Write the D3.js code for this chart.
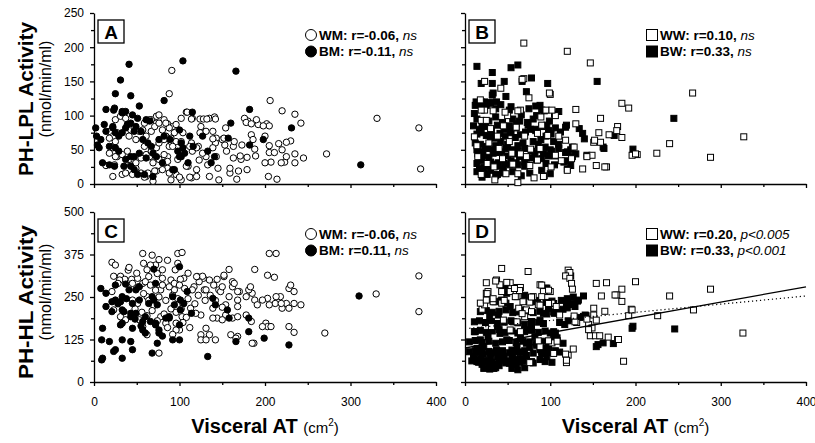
<!DOCTYPE html>
<html>
<head>
<meta charset="utf-8">
<title>PH-LPL / PH-HL activity vs visceral AT</title>
<script src="https://cdn.jsdelivr.net/npm/d3@7"></script>
<style>
    body { margin: 0; background: #fff; }
    svg { display: block; font-family: Arial, "Liberation Sans", sans-serif; }
    .axis path, .axis line { stroke: #000; stroke-width: 1.3; }
    .axis text { font-size: 12px; fill: #000; }
    .open { fill: #fff; stroke: #000; stroke-width: 1; }
    .filled { fill: #000; stroke: #000; stroke-width: 1; }
    .legend { font-size: 13.5px; font-weight: bold; }
    .legend .stat { font-style: italic; font-weight: normal; }
</style>
</head>
<body>
<svg id="chart" width="815" height="443"></svg>
<script>
// x ticks (visceral AT, cm2)
var xTicks = [0, 100, 200, 300, 400];
var xMinor = [50, 150, 250, 350];
// y ticks
var yTicksLPL = [0, 50, 100, 150, 200, 250];
var yMinorLPL = [25, 75, 125, 175, 225];
var yTicksHL = [0, 125, 250, 375, 500];
var yMinorHL = [62.5, 187.5, 312.5, 437.5];

// A: PH-LPL, men  [visceral AT, activity]
var aWM = [[91,166],[88,132],[206,122],[220,107],[235,102],[242,89],[331,96],[380,82],[382,22],[272,44],[245,38],[235,44],[230,63],[225,61],[216,59],[223,32],[235,31],[219,31],[204,11],[214,7],[205,46],[205,56],[211,46],[207,32],[200,31],[200,70],[192,87],[202,88],[205,85],[190,94],[180,92],[176,96],[184,72],[186,65],[188,51],[189,41],[179,39],[179,21],[169,19],[167,7],[159,16],[159,23],[172,36],[171,41],[163,38],[163,55],[155,48],[153,57],[154,82],[150,65],[143,67],[142,60],[143,40],[145,23],[146,6],[135,11],[133,28],[131,40],[127,45],[139,53],[139,66],[139,77],[135,96],[141,98],[131,77],[125,84],[124,75],[122,55],[123,35],[120,21],[114,9],[110,26],[115,48],[114,60],[108,105],[115,96],[102,6],[96,14],[92,19],[82,31],[86,23],[86,40],[88,55],[90,62],[84,70],[94,75],[92,84],[86,88],[82,94],[73,99],[67,94],[73,89],[67,77],[61,70],[59,55],[65,40],[69,31],[73,19],[69,4],[61,11],[55,16],[49,23],[43,28],[33,14],[22,11],[14,27],[24,28],[27,40],[22,55],[18,77],[25,94],[31,99],[37,96],[43,79],[49,65],[39,48],[120,11],[112,10],[100,10],[90,6],[88,16],[80,21],[71,19],[63,16],[59,10],[45,14],[37,16],[18,45],[25,40],[33,43],[41,36],[49,31],[55,38],[61,43],[67,48],[73,53],[76,60],[82,65],[90,67],[96,62],[104,75],[102,62],[92,55],[112,55],[120,53],[82,43],[76,36],[86,33],[98,36],[108,26],[22,53],[25,62],[18,67],[27,75],[41,70],[47,82],[57,79],[59,89],[65,94],[71,84],[76,89],[53,77],[80,79],[88,82],[96,87],[102,96],[114,95],[124,95],[76,101],[84,89],[109,105],[128,95],[132,95],[142,95],[178,90],[184,88],[198,85],[152,67],[164,62],[173,57],[220,50],[225,40]];
var aBM = [[41,175],[31,152],[25,132],[43,129],[104,180],[166,165],[82,122],[53,114],[182,109],[115,105],[160,89],[231,82],[198,65],[157,67],[182,57],[312,28],[2,82],[3,70],[4,57],[8,65],[14,77],[22,82],[25,75],[29,70],[33,75],[37,82],[39,87],[43,89],[47,77],[55,77],[57,65],[63,60],[67,55],[76,65],[82,70],[89,65],[100,79],[102,60],[104,53],[98,48],[102,40],[106,45],[112,70],[116,55],[110,31],[94,21],[80,31],[73,40],[69,45],[61,38],[53,45],[47,40],[43,40],[37,36],[35,26],[43,26],[47,21],[51,14],[59,14],[69,11],[92,21],[100,40],[137,31],[141,40],[133,48],[127,70],[18,28],[10,31],[24,26],[29,48],[25,53],[18,55],[6,53],[14,109],[24,111],[33,104],[37,106],[45,101],[51,96],[49,84],[61,94],[65,92],[12,87],[22,84],[23,108],[33,106]];

// B: PH-LPL, women
var bWW = [[69,206],[120,194],[147,177],[267,133],[184,118],[192,111],[130,109],[159,96],[179,84],[169,72],[184,68],[159,61],[151,61],[157,75],[327,69],[240,59],[225,45],[288,39],[202,43],[196,42],[166,25],[154,27],[149,42],[138,22],[120,20],[130,88],[106,100],[100,131],[75,126],[69,154],[42,140],[23,150],[65,108],[89,98],[93,12],[81,9],[62,15],[62,2],[35,6],[19,14],[101,25],[76,27],[56,29],[106,42],[128,54],[118,64],[19,93],[23,108],[11,69],[30,81],[50,100],[60,83],[85,74],[97,71],[77,51],[65,44],[44,37],[34,25],[67,153],[99,133],[19,108],[33,107],[47,105],[62,107],[95,108],[102,108],[178,78],[152,64],[143,40],[200,44],[164,25],[92,11],[25,93],[14,56],[28,60],[52,62],[70,70],[88,52],[110,70],[40,52],[55,45],[72,40],[15,40],[26,30],[48,15],[85,35],[113,34],[125,37],[38,70],[45,85],[90,86],[18,123]];
var bBW = [[14,172],[62,174],[54,170],[32,163],[19,147],[32,147],[46,150],[67,150],[78,155],[97,147],[155,150],[72,135],[32,130],[245,96],[11,103],[15,118],[23,120],[118,83],[138,74],[140,66],[175,71],[162,54],[197,51],[143,42],[116,32],[124,27],[126,54],[33,133],[48,128],[13,120],[19,120],[25,115],[30,119],[37,120],[54,113],[66,101],[88,115],[93,107],[99,92],[80,95],[73,90],[60,88],[105,102],[110,106],[14,73],[19,75],[25,71],[30,69],[35,67],[41,74],[47,70],[53,75],[59,68],[65,72],[71,76],[77,80],[83,78],[89,65],[95,70],[101,73],[15,44],[21,42],[28,39],[33,45],[43,47],[50,41],[57,44],[64,40],[72,38],[82,44],[92,45],[100,50],[106,41],[120,47],[124,50],[17,22],[22,24],[28,27],[33,29],[39,31],[45,22],[53,28],[60,31],[70,32],[78,38],[84,35],[90,37],[98,41],[118,34],[120,22],[134,81],[119,86],[163,52],[12,60],[18,58],[24,55],[36,56],[42,62],[50,58],[62,56],[68,60],[80,62],[86,58],[104,62],[110,58],[14,95],[20,88],[28,92],[36,98],[44,90],[52,85],[56,95],[64,92],[84,100],[96,86],[20,10],[26,14],[36,12],[44,16],[56,18],[66,12],[76,16],[90,20],[100,15],
    [12,115],[20,112],[28,118],[36,110],[42,116],[52,108],[75,110],[83,114],[90,108],[10,85],[17,80],[24,84],[31,78],[38,86],[46,80],[54,78],[60,82],[74,86],[82,80],[90,84],[98,78],[106,82],[112,76],[14,50],[20,48],[27,52],[34,50],[40,46],[48,52],[55,50],[62,48],[70,52],[78,48],[86,50],[94,54],[102,48],[110,52],[118,46],[126,40],[130,44],[14,30],[20,34],[30,32],[38,26],[46,30],[54,34],[62,28],[70,26],[95,30],[105,28],[14,18],[22,16],[30,20],[38,14]];

// C: PH-HL, men
var cWM = [[21,352],[25,344],[40,329],[41,337],[57,378],[68,373],[72,344],[86,358],[98,378],[103,381],[98,349],[205,378],[213,378],[203,314],[211,308],[158,331],[188,331],[380,312],[380,207],[330,259],[270,144],[242,227],[228,275],[230,285],[234,266],[234,231],[225,231],[218,251],[220,217],[212,231],[203,246],[205,227],[201,173],[203,163],[197,163],[228,163],[234,146],[188,241],[191,227],[185,261],[181,271],[178,251],[170,266],[168,241],[168,222],[162,280],[162,295],[158,251],[154,227],[160,139],[168,134],[187,114],[178,197],[184,178],[146,271],[152,310],[144,188],[139,188],[131,158],[125,139],[125,124],[135,139],[139,217],[128,305],[123,295],[135,300],[117,280],[105,305],[129,271],[125,197],[103,192],[96,173],[100,153],[76,85],[58,349],[66,344],[76,360],[23,311],[31,311],[36,302],[44,302],[51,305],[57,290],[64,310],[74,319],[80,305],[90,300],[101,302],[121,310],[127,311],[144,302],[152,314],[164,290],[21,266],[45,241],[51,231],[62,251],[78,271],[94,271],[115,271],[131,271],[148,266],[168,266],[183,280],[197,241],[213,251],[219,231],[228,217],[23,212],[31,192],[37,183],[53,183],[57,163],[62,139],[78,192],[84,173],[96,153],[113,217],[119,202],[154,197],[162,188],[168,192],[150,183],[131,124],[142,124],[166,129],[185,114],[207,163],[45,290],[52,280],[60,295],[66,285],[72,270],[80,285],[88,280],[94,290],[100,285],[106,275],[58,260],[64,240],[70,225],[76,250],[84,240],[92,255],[98,245],[104,230],[110,245],[48,215],[56,205],[62,195],[68,210],[74,180],[82,200],[90,215],[96,205],[102,215],[108,190],[86,160],[92,140],[104,175],[112,160],[118,230],[122,255],[130,240],[136,255],[142,240],[150,220],[150,280],[140,285],[120,310],[110,320],[95,330],[80,330],[62,330],[50,320],[30,300],[28,290]];
var cBM = [[8,275],[14,261],[14,222],[10,158],[9,124],[10,70],[9,65],[25,285],[37,288],[21,236],[33,212],[21,207],[33,173],[31,168],[43,192],[49,271],[53,241],[45,158],[57,178],[60,144],[68,251],[70,332],[72,290],[74,227],[72,173],[76,144],[74,114],[68,85],[84,188],[88,188],[92,251],[94,227],[92,124],[100,339],[100,168],[100,124],[101,241],[101,212],[105,231],[109,266],[114,202],[139,246],[142,227],[133,75],[156,212],[158,188],[166,119],[181,148],[181,188],[199,129],[228,109],[310,253],[18,119],[25,95],[33,124],[43,119],[45,95],[33,70],[23,90],[25,241],[31,236],[33,251],[41,271],[53,280],[35,207],[43,202],[49,202],[60,192],[66,178],[72,168],[76,153],[88,192],[57,153],[64,231],[70,241],[45,231],[38,245],[28,230],[48,185],[55,165],[80,135]];

// D: PH-HL, women
var dWW = [[43,334],[74,325],[121,329],[123,322],[118,312],[123,305],[125,290],[126,273],[25,292],[37,300],[41,286],[53,292],[25,261],[27,266],[53,266],[61,278],[65,278],[88,286],[92,266],[100,266],[154,290],[166,292],[200,295],[184,273],[178,256],[184,237],[160,253],[151,217],[164,208],[195,214],[192,195],[226,195],[240,253],[268,212],[288,273],[326,144],[186,61],[121,79],[119,57],[127,97],[147,136],[153,136],[158,136],[168,132],[179,125],[145,169],[149,159],[131,175],[20,214],[23,227],[18,232],[31,242],[43,232],[61,251],[69,237],[76,235],[63,217],[72,212],[80,251],[90,251],[86,227],[102,232],[107,222],[76,57],[102,115],[108,120],[25,241],[33,236],[43,266],[59,251],[64,269],[68,236],[90,285],[98,231],[88,226],[78,207],[70,192],[61,177],[53,153],[45,182],[31,163],[65,148],[88,104],[104,84],[111,197],[129,177],[176,256],[151,197],[154,182],[196,212],[180,125],
    [36,297],[49,293],[58,275],[26,260],[46,240],[33,245],[78,250],[98,270],[67,201],[86,121],[98,121],[118,82],[119,64],[128,194],[143,185],[145,154]];
var dBW = [[124,312],[95,276],[139,253],[124,232],[129,222],[120,218],[115,214],[139,193],[142,195],[117,169],[106,144],[156,110],[162,115],[174,113],[197,164],[196,158],[246,156],[98,108],[94,100],[88,95],[80,85],[72,78],[65,70],[58,66],[50,62],[40,58],[33,52],[26,60],[18,70],[12,65],[14,88],[20,95],[30,85],[38,75],[46,72],[55,80],[62,88],[70,92],[76,102],[84,108],[100,120],[104,125],[108,130],[133,241],[119,231],[105,202],[141,197],[111,175],[104,148],[107,124],[115,114],[98,94],[90,84],[72,65],[49,60],[33,45],[10,75],[14,99],[18,124],[12,148],[29,192],[39,197],[53,222],[66,212],[78,163],[82,133],[72,114],[61,104],[49,124],[41,143],[33,163],[27,133],[22,104],[37,94],[45,76],[55,94],[65,128],[70,153],[88,182],[92,202],[98,217],[96,276],[104,231],[47,280],[49,261],[70,255],[43,241],[57,177],[154,104],[110,210],[125,228],[132,238],[14,60],[20,52],[28,45],[34,40],[40,48],[52,55],[60,52],[66,62],[78,60],[88,66],[96,74],[30,70],[22,80],[44,65],[56,72],
    [35,236],[42,238],[48,232],[78,236],[85,240],[95,234],[102,238],[113,240],[120,245],[127,250],[18,207],[25,210],[32,205],[40,208],[48,212],[56,204],[62,206],[72,210],[80,204],[88,208],[96,200],[104,206],[110,210],[11,177],[17,180],[24,175],[31,178],[38,172],[46,176],[54,180],[62,174],[70,170],[78,178],[86,176],[92,172],[121,180],[128,186],[135,190],[11,148],[18,152],[25,146],[32,150],[40,154],[47,146],[55,150],[62,144],[70,148],[78,152],[86,146],[94,150],[100,144],[5,118],[12,122],[20,116],[28,120],[36,114],[44,118],[52,122],[60,116],[68,120],[76,118],[84,114],[92,120],[101,118],[108,122],[5,89],[12,92],[20,86],[28,90],[36,88],[44,92],[52,86],[60,90],[68,88],[90,90],[98,86],[106,92],[111,88],[8,62],[16,58],[24,62],[32,58],[40,62],[48,56],[56,60],[64,58],[72,62],[80,56],[94,60],[102,58],[22,40],[29,38],[36,42],[55,40],[62,36],[70,42]];

// fitted lines in D
var fitBW = [[0, 100], [400, 280]];
var fitWW = [[5, 158], [400, 253]];

var svg = d3.select("#chart");

var xLeft = d3.scaleLinear().domain([0, 400]).range([94, 436]);
var xRight = d3.scaleLinear().domain([0, 400]).range([465, 806]);
var yTop = d3.scaleLinear().domain([0, 250]).range([184, 13]);
var yBot = d3.scaleLinear().domain([0, 500]).range([382, 212]);

// circles: open drawn under filled; squares: filled drawn first, open on top
var panels = [
    {label: "A", x: xLeft, y: yTop, shape: "circle", yTicks: yTicksLPL, yMinor: yMinorLPL,
        showX: false, showY: true, legendX: 311, drawOrder: [0, 1],
        series: [{data: aWM, cls: "open", text: "WM: r=-0.06, ", stat: "ns"},
                 {data: aBM, cls: "filled", text: "BM: r=-0.11, ", stat: "ns"}]},
    {label: "B", x: xRight, y: yTop, shape: "square", yTicks: yTicksLPL, yMinor: yMinorLPL,
        showX: false, showY: false, legendX: 652, drawOrder: [1, 0],
        series: [{data: bWW, cls: "open", text: "WW: r=0.10, ", stat: "ns"},
                 {data: bBW, cls: "filled", text: "BW: r=0.33, ", stat: "ns"}]},
    {label: "C", x: xLeft, y: yBot, shape: "circle", yTicks: yTicksHL, yMinor: yMinorHL,
        showX: true, showY: true, legendX: 311, drawOrder: [0, 1],
        series: [{data: cWM, cls: "open", text: "WM: r=-0.06, ", stat: "ns"},
                 {data: cBM, cls: "filled", text: "BM: r=0.11, ", stat: "ns"}]},
    {label: "D", x: xRight, y: yBot, shape: "square", yTicks: yTicksHL, yMinor: yMinorHL,
        showX: true, showY: false, legendX: 652, drawOrder: [1, 0],
        series: [{data: dWW, cls: "open", text: "WW: r=0.20, ", stat: "p<0.005"},
                 {data: dBW, cls: "filled", text: "BW: r=0.33, ", stat: "p<0.001"}]}
];

panels.forEach(function (p) {
    var g = svg.append("g");
    var y0 = p.y.range()[0], yTopPx = p.y.range()[1];
    var xStart = p.x.range()[0];

    // axes, major + minor ticks
    g.append("g").attr("class", "axis").attr("transform", "translate(0," + y0 + ")")
        .call(d3.axisBottom(p.x).tickValues(xTicks).tickSizeInner(4).tickSizeOuter(0).tickPadding(11)
            .tickFormat(p.showX ? d3.format("d") : function () { return ""; }));
    g.append("g").attr("class", "axis").attr("transform", "translate(0," + y0 + ")")
        .call(d3.axisBottom(p.x).tickValues(xMinor).tickSize(3).tickFormat(""))
        .select(".domain").remove();
    g.append("g").attr("class", "axis").attr("transform", "translate(" + xStart + ",0)")
        .call(d3.axisLeft(p.y).tickValues(p.yTicks).tickSizeInner(4).tickSizeOuter(0).tickPadding(6)
            .tickFormat(p.showY ? d3.format("d") : function () { return ""; }));
    g.append("g").attr("class", "axis").attr("transform", "translate(" + xStart + ",0)")
        .call(d3.axisLeft(p.y).tickValues(p.yMinor).tickSize(3).tickFormat(""))
        .select(".domain").remove();

    // points
    p.drawOrder.forEach(function (k) {
        var s = p.series[k];
        var pts = g.append("g").selectAll(".pt").data(s.data).enter();
        if (p.shape === "circle") {
            pts.append("circle").attr("class", s.cls)
                .attr("cx", function (d) { return p.x(d[0]); })
                .attr("cy", function (d) { return p.y(d[1]); })
                .attr("r", 3.2);
        } else {
            pts.append("rect").attr("class", s.cls)
                .attr("x", function (d) { return p.x(d[0]) - 3; })
                .attr("y", function (d) { return p.y(d[1]) - 3; })
                .attr("width", 6).attr("height", 6);
        }
    });

    // fitted lines (panel D)
    if (p.label === "D") {
        var line = d3.line().x(function (d) { return p.x(d[0]); }).y(function (d) { return p.y(d[1]); });
        g.append("path").datum(fitWW).attr("d", line)
            .attr("fill", "none").attr("stroke", "#000").attr("stroke-width", 1.2)
            .attr("stroke-dasharray", "1.2,2.8");
        g.append("path").datum(fitBW).attr("d", line)
            .attr("fill", "none").attr("stroke", "#000").attr("stroke-width", 1.3);
    }

    // panel letter box
    g.append("rect").attr("x", xStart + 4).attr("y", yTopPx + 7)
        .attr("width", 26).attr("height", 23)
        .attr("fill", "#fff").attr("stroke", "#000").attr("stroke-width", 1.3);
    g.append("text").attr("x", xStart + 17).attr("y", yTopPx + 25.5)
        .attr("text-anchor", "middle").attr("font-size", "19px").attr("font-weight", "bold")
        .text(p.label);

    // legend
    p.series.forEach(function (s, i) {
        var ly = yTopPx + 22 + i * 16.5;
        if (p.shape === "circle") {
            g.append("circle").attr("class", s.cls).attr("cx", p.legendX).attr("cy", ly).attr("r", 5.5)
                .attr("stroke-width", 1.2);
        } else {
            g.append("rect").attr("class", s.cls).attr("x", p.legendX - 5.5).attr("y", ly - 5.5)
                .attr("width", 11).attr("height", 11).attr("stroke-width", 1.2);
        }
        var t = g.append("text").attr("class", "legend").attr("x", p.legendX + 8).attr("y", ly + 4.5);
        t.append("tspan").text(s.text);
        t.append("tspan").attr("class", "stat").text(s.stat);
    });
});

// y titles
[{name: "PH-LPL Activity", cy: 99, len: 154}, {name: "PH-HL Activity", cy: 302, len: 154}].forEach(function (t) {
    svg.append("text").attr("transform", "translate(33," + t.cy + ") rotate(-90)")
        .attr("text-anchor", "middle").attr("font-size", "21px").attr("font-weight", "bold")
        .attr("textLength", t.len).attr("lengthAdjust", "spacingAndGlyphs")
        .text(t.name);
    svg.append("text").attr("transform", "translate(51," + (t.cy - 10) + ") rotate(-90)")
        .attr("text-anchor", "middle").attr("font-size", "16px")
        .text("(nmol/min/ml)");
});

// x titles
[xLeft, xRight].forEach(function (x) {
    var cx = (x.range()[0] + x.range()[1]) / 2;
    var t = svg.append("text").attr("x", cx).attr("y", 433).attr("text-anchor", "middle");
    t.append("tspan").attr("font-size", "20px").attr("font-weight", "bold").text("Visceral AT ");
    t.append("tspan").attr("font-size", "15px").text("(cm");
    t.append("tspan").attr("font-size", "10px").attr("dy", -7).text("2");
    t.append("tspan").attr("font-size", "15px").attr("dy", 7).text(")");
});
</script>
</body>
</html>
